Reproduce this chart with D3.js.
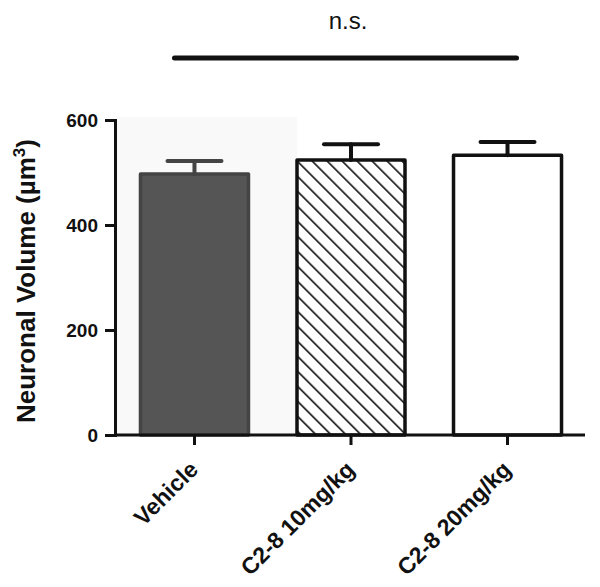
<!DOCTYPE html>
<html><head><meta charset="utf-8">
<script src="https://cdn.jsdelivr.net/npm/d3@7"></script>
<style>body{margin:0;background:#fff}svg{display:block}text{font-family:"Liberation Sans",Arial,sans-serif}</style>
</head><body>
<svg id="c" width="600" height="587"></svg>
<script>
const categories = ["Vehicle", "C2-8 10mg/kg", "C2-8 20mg/kg"];
const means = [497, 524, 533];
const errors = [25, 30, 25];
const yTicks = [0, 200, 400, 600];
const sigLabel = "n.s.";

const svg = d3.select("#c");
const x = d3.scaleBand().domain(categories).range([117, 585]).paddingInner(0.31).paddingOuter(0.15);
const y = d3.scaleLinear().domain([0, 600]).range([435, 120]);

const defs = svg.append("defs");
const pat = defs.append("pattern").attr("id","hatch").attr("patternUnits","userSpaceOnUse")
  .attr("width",10.6).attr("height",10.6).attr("patternTransform","rotate(-45)");
pat.append("rect").attr("width",10.6).attr("height",10.6).attr("fill","#fff");
pat.append("line").attr("x1",0).attr("y1",0).attr("x2",0).attr("y2",10.6).attr("stroke","#111").attr("stroke-width",3.2);

// faint background artifact
svg.append("rect").attr("x",117).attr("y",117).attr("width",180).attr("height",318).attr("fill","#f9f9f9");

// bars
const fills = ["#555555", "url(#hatch)", "#ffffff"];
const strokes = ["#444444", "#111111", "#111111"];
svg.selectAll(".bar").data(categories).join("rect")
  .attr("x", d => x(d)).attr("width", x.bandwidth())
  .attr("y", (d,i) => y(means[i])).attr("height", (d,i) => y(0) - y(means[i]))
  .attr("fill", (d,i) => fills[i]).attr("stroke", (d,i) => strokes[i]).attr("stroke-width", 3.5)
  .attr("stroke-linejoin","round");

// error bars
categories.forEach((d,i) => {
  const cx = x(d) + x.bandwidth()/2;
  const g = svg.append("g").attr("stroke", strokes[i]).attr("stroke-width", 4).attr("stroke-linecap","round");
  g.append("line").attr("x1",cx).attr("x2",cx).attr("y1",y(means[i])).attr("y2",y(means[i]+errors[i]));
  g.append("line").attr("x1",cx-27).attr("x2",cx+27).attr("y1",y(means[i]+errors[i])).attr("y2",y(means[i]+errors[i]));
});

// y axis
const ya = svg.append("g").attr("transform","translate(115,0)")
  .call(d3.axisLeft(y).tickValues(yTicks).tickSize(10).tickPadding(7).tickFormat(d3.format("d")));
ya.select(".domain").attr("stroke","#111").attr("stroke-width",3);
ya.selectAll(".tick line").attr("stroke","#111").attr("stroke-width",3);
ya.selectAll(".tick text").attr("font-size",19).attr("font-weight","bold").attr("fill","#111");

// x axis
const xa = svg.append("g").attr("transform","translate(0,435)")
  .call(d3.axisBottom(x).tickSize(10).tickSizeOuter(0));
xa.select(".domain").attr("stroke","#111").attr("stroke-width",3).attr("d","M115,0H585");
xa.selectAll(".tick line").attr("stroke","#111").attr("stroke-width",3);
xa.selectAll(".tick text").attr("font-size",23).attr("font-weight","bold").attr("fill","#111")
  .attr("text-anchor","end").attr("y",0).attr("dy",0).attr("transform","translate(5,36) rotate(-45)");

// y label
svg.append("text").attr("transform","translate(35,281) rotate(-90)").attr("text-anchor","middle")
  .attr("font-size",26).attr("font-weight","bold").attr("fill","#111")
  .html('Neuronal Volume (µm<tspan dy="-10" font-size="17">3</tspan><tspan dy="10">)</tspan>');

// significance
svg.append("line").attr("x1",x(categories[0])+34).attr("x2",x(categories[2])+x.bandwidth()-45)
  .attr("y1",58).attr("y2",58).attr("stroke","#111").attr("stroke-width",5).attr("stroke-linecap","round");
svg.append("text").attr("x",348).attr("y",29).attr("text-anchor","middle").attr("font-size",24).attr("fill","#111").text(sigLabel);
</script>
</body></html>
